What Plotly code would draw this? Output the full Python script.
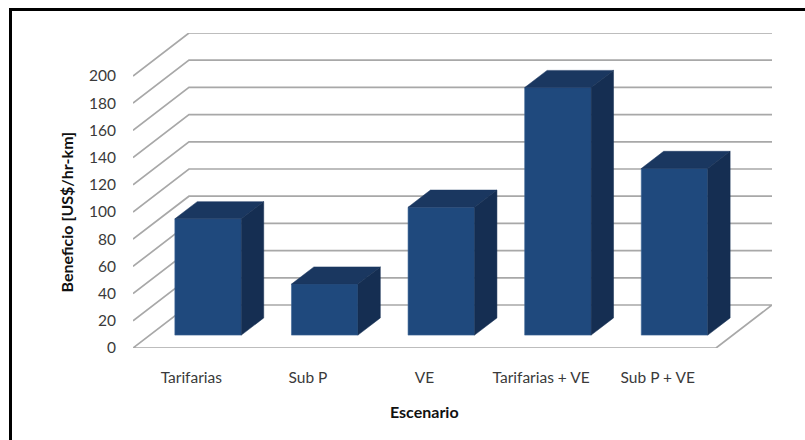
import plotly.graph_objects as go

# Scenario benefits in US$/hr-km
categories = ["Tarifarias", "Sub P", "VE", "Tarifarias + VE", "Sub P + VE"]
values = [85.5, 37.5, 94, 182, 122.5]
y_ticks = [0, 20, 40, 60, 80, 100, 120, 140, 160, 180, 200]

# Oblique projection of the chart's depth axis, in axis units
SKEW_X = 0.48
SKEW_Y = 31.6
BAR_WIDTH = 0.57
BAR_NEAR = 0.30
BAR_FAR = 0.70

FRONT = "#1f497d"
TOP = "#1a3760"
SIDE = "#152e52"
GRID = "#a8a8a8"
W, H = 805, 440
L, R, T, B = 133, 33, 33, 92
N = len(categories)


def project(x, y, depth):
    return x + depth * SKEW_X, y + depth * SKEW_Y


def paper_x(px):
    return (px - L) / (W - L - R)


def paper_y(py):
    return 1 - (py - T) / (H - T - B)


fig = go.Figure()

# Front faces, sitting on the floor at the bar's near depth
near_x, near_base = project(0, 0, BAR_NEAR)
fig.add_trace(go.Bar(
    x=[i + 0.5 + near_x for i in range(N)],
    y=values,
    base=near_base,
    width=BAR_WIDTH,
    marker=dict(color=FRONT, line=dict(width=0.6, color="#3d6496")),
    showlegend=False,
))

# Top and side faces of each bar
for i, v in enumerate(values):
    left = i + 0.5 - BAR_WIDTH / 2
    right = i + 0.5 + BAR_WIDTH / 2
    corners = {
        "top": [project(left, v, BAR_NEAR), project(right, v, BAR_NEAR),
                project(right, v, BAR_FAR), project(left, v, BAR_FAR)],
        "side": [project(right, 0, BAR_NEAR), project(right, v, BAR_NEAR),
                 project(right, v, BAR_FAR), project(right, 0, BAR_FAR)],
    }
    for face, colour in (("top", TOP), ("side", SIDE)):
        pts = corners[face] + corners[face][:1]
        fig.add_trace(go.Scatter(
            x=[p[0] for p in pts],
            y=[p[1] for p in pts],
            mode="lines",
            fill="toself",
            fillcolor=colour,
            line=dict(width=0.5, color=colour),
            showlegend=False,
            hoverinfo="skip",
        ))

# Side-wall and back-wall gridlines plus the floor outline
shapes = []
for tick in y_ticks:
    x1, y1 = project(0, tick, 1)
    x2, y2 = project(N, tick, 1)
    path = f"M 0 {tick} L {x1} {y1} L {x2} {y2}"
    if tick == 0:
        path += f" L {N} 0 Z"
    shapes.append(dict(type="path", path=path, xref="x", yref="y", layer="below",
                       line=dict(color=GRID, width=1.7)))

# Outer frame, running off the right and bottom of the page
shapes.append(dict(type="rect", xref="paper", yref="paper",
                   x0=paper_x(10.5), x1=paper_x(830), y0=paper_y(9.5), y1=paper_y(470),
                   line=dict(color="black", width=3), layer="above"))

annotations = [
    dict(text="<b>Escenario</b>", xref="paper", yref="paper",
         x=paper_x(424), y=paper_y(411), xanchor="center", yanchor="middle",
         showarrow=False, font=dict(size=16, color="#111111")),
    dict(text="<b>Beneficio [US$/hr-km]</b>", xref="paper", yref="paper",
         x=paper_x(66), y=paper_y(212.5), xanchor="center", yanchor="middle",
         showarrow=False, textangle=-90, font=dict(size=16, color="#111111")),
]

fig.update_layout(
    width=W, height=H,
    margin=dict(l=L, r=R, t=T, b=B),
    paper_bgcolor="white", plot_bgcolor="white",
    font=dict(family="Lato", size=15.5, color="#3a3a3a"),
    showlegend=False,
    shapes=shapes,
    annotations=annotations,
    xaxis=dict(
        range=[0, N + SKEW_X],
        tickmode="array",
        tickvals=[i + 0.5 for i in range(N)],
        ticktext=categories,
        showgrid=False, zeroline=False, showline=False, ticks="",
        ticklabelstandoff=18,
    ),
    yaxis=dict(
        range=[0, 200 + SKEW_Y],
        tickmode="array",
        tickvals=y_ticks,
        showgrid=False, zeroline=False, showline=False, ticks="",
        ticklabelstandoff=16,
    ),
)

fig.write_html("out.html", config=dict(displayModeBar=False))
